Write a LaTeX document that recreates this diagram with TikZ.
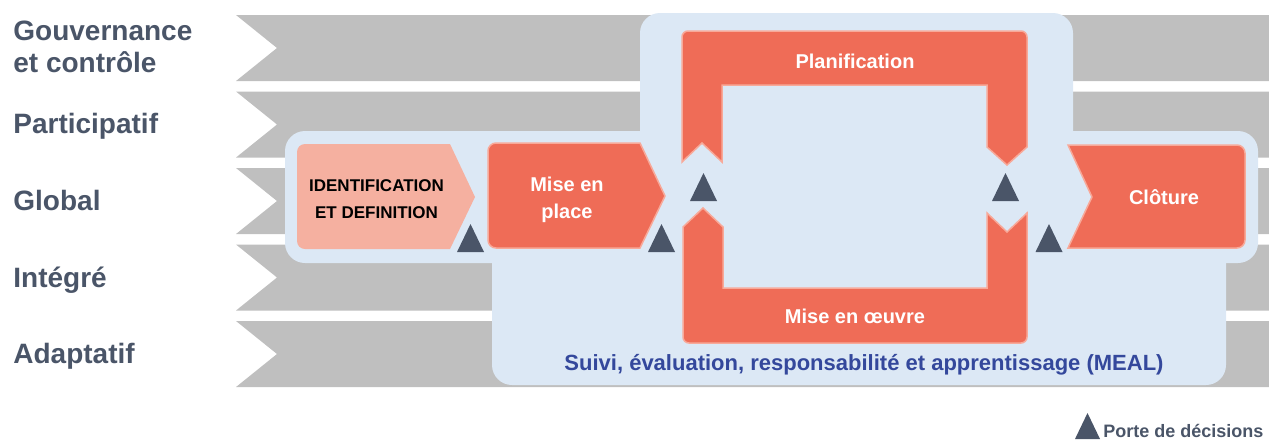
\documentclass[tikz,border=0pt]{standalone}
\usepackage{fontspec}
\setmainfont{Liberation Sans}
\usepackage{tikz}
\usetikzlibrary{calc}

\definecolor{bandgrey}{HTML}{BFBFBF}
\definecolor{panelblue}{HTML}{DCE8F5}
\definecolor{phaseorange}{HTML}{EF6C57}
\definecolor{phaseedge}{HTML}{F8A999}
\definecolor{idsalmon}{HTML}{F5B0A0}
\definecolor{gateslate}{HTML}{4A5568}
\definecolor{mealblue}{HTML}{34489C}

\tikzset{
	band/.style={fill=bandgrey, draw=none},
	panel/.style={fill=panelblue, draw=none, rounded corners=10pt},
	phase/.style={fill=phaseorange, draw=phaseedge, line width=0.75pt},
	idphase/.style={fill=idsalmon, draw=none},
	rowlabel/.style={text=gateslate, font=\bfseries\fontsize{14}{16}\selectfont, inner sep=0pt, align=left},
	phasetext/.style={text=white, font=\bfseries\fontsize{10}{13.5}\selectfont, inner sep=0pt, align=center}
}
\def\gate(#1,#2)(#3:#4){\fill[gateslate] (#1-#3,#2) -- (#1+#3,#2) -- (#1,#2-#4) -- cycle;}
\def\band(#1:#2){\fill[band] (236,#1) -- (1269,#1) -- (1269,#1+#2) -- (236,#1+#2) -- (277,#1+#2/2) -- cycle;}

\begin{document}
\begin{tikzpicture}[x=0.5pt, y=-0.5pt]
			%%%%% START %%%%%
			\useasboundingbox (0,0) rectangle (1269,441);
			
			% grey rows
			\band(15:66)
			\band(91.5:66)
			\band(168:66)
			\band(244.5:66)
			\band(321:66)
			
			\node[rowlabel, anchor=west] (lblgov) at (13,47) {Gouvernance\\et contrôle};
			\node[rowlabel, anchor=base west] (lblpart) at (13,133) {Participatif};
			\node[rowlabel, anchor=base west] (lblglob) at (13,210) {Global};
			\node[rowlabel, anchor=base west] (lblint) at (13,287) {Intégré};
			\node[rowlabel, anchor=base west] (lbladapt) at (13,363) {Adaptatif};
			
			% blue panel
			\fill[panel] (640,13) rectangle (1073,200);
			\fill[panel] (285,131) rectangle (1258,263);
			\fill[panel] (492,200) rectangle (1226,385);
			
			% phases
			\fill[idphase] (450,144) -- (475,197) -- (450,249) [rounded corners=4pt] -- (297,249) -- (297,144) [sharp corners] -- cycle;
			\draw[phase] (640,143) -- (665,196) -- (640,248) [rounded corners=4pt] -- (488,248) -- (488,143) [sharp corners] -- cycle;
			\draw[phase] (682,162) [rounded corners=3pt] -- (682,31) -- (1027,31) [sharp corners] -- (1027,147) -- (1007,165) -- (987,147) -- (987,85) -- (722,85) -- (722,162) -- (702,143) -- cycle;
			\draw[phase] (683,227) -- (703,208) -- (723,227) -- (723,288) -- (987,288) -- (987,213) -- (1007,232) -- (1027,213) [rounded corners=3pt] -- (1027,343) -- (683,343) [sharp corners] -- cycle;
			\draw[phase] (1092,197) -- (1068,145) [rounded corners=4pt] -- (1245,145) -- (1245,248) [sharp corners] -- (1068,248) -- cycle;
			
			\node[font=\bfseries\fontsize{8.5}{13.5}\selectfont, inner sep=0pt, align=center] (txtid) at (376.5,199.3) {IDENTIFICATION\\ET DEFINITION};
			\node[phasetext] (txtplace) at (567,199.4) {Mise en\\place};
			\node[phasetext, anchor=base] (txtplan) at (855,68) {Planification};
			\node[phasetext, anchor=base] (txtoeuvre) at (855,323) {Mise en œuvre};
			\node[phasetext, anchor=base] (txtclot) at (1164,204) {Clôture};
			\node[text=mealblue, font=\bfseries\fontsize{11}{13}\selectfont, inner sep=0pt, anchor=base] (txtmeal) at (864,370) {Suivi, évaluation, responsabilité et apprentissage (MEAL)};
			
			% decision gates
			\gate(470.5,252)(13.5:28)
			\gate(661.5,252)(13.5:28)
			\gate(703.5,201)(13.5:28)
			\gate(1005.5,201)(13.5:28)
			\gate(1049,252)(13.5:28)
			
			\gate(1087.5,439)(12.5:26)
			\node[text=gateslate, font=\bfseries\fontsize{9}{11}\selectfont, inner sep=0pt, anchor=base west] (txtgate) at (1103,437) {Porte de décisions};
			%%%%% END %%%%%
\end{tikzpicture}
\end{document}
